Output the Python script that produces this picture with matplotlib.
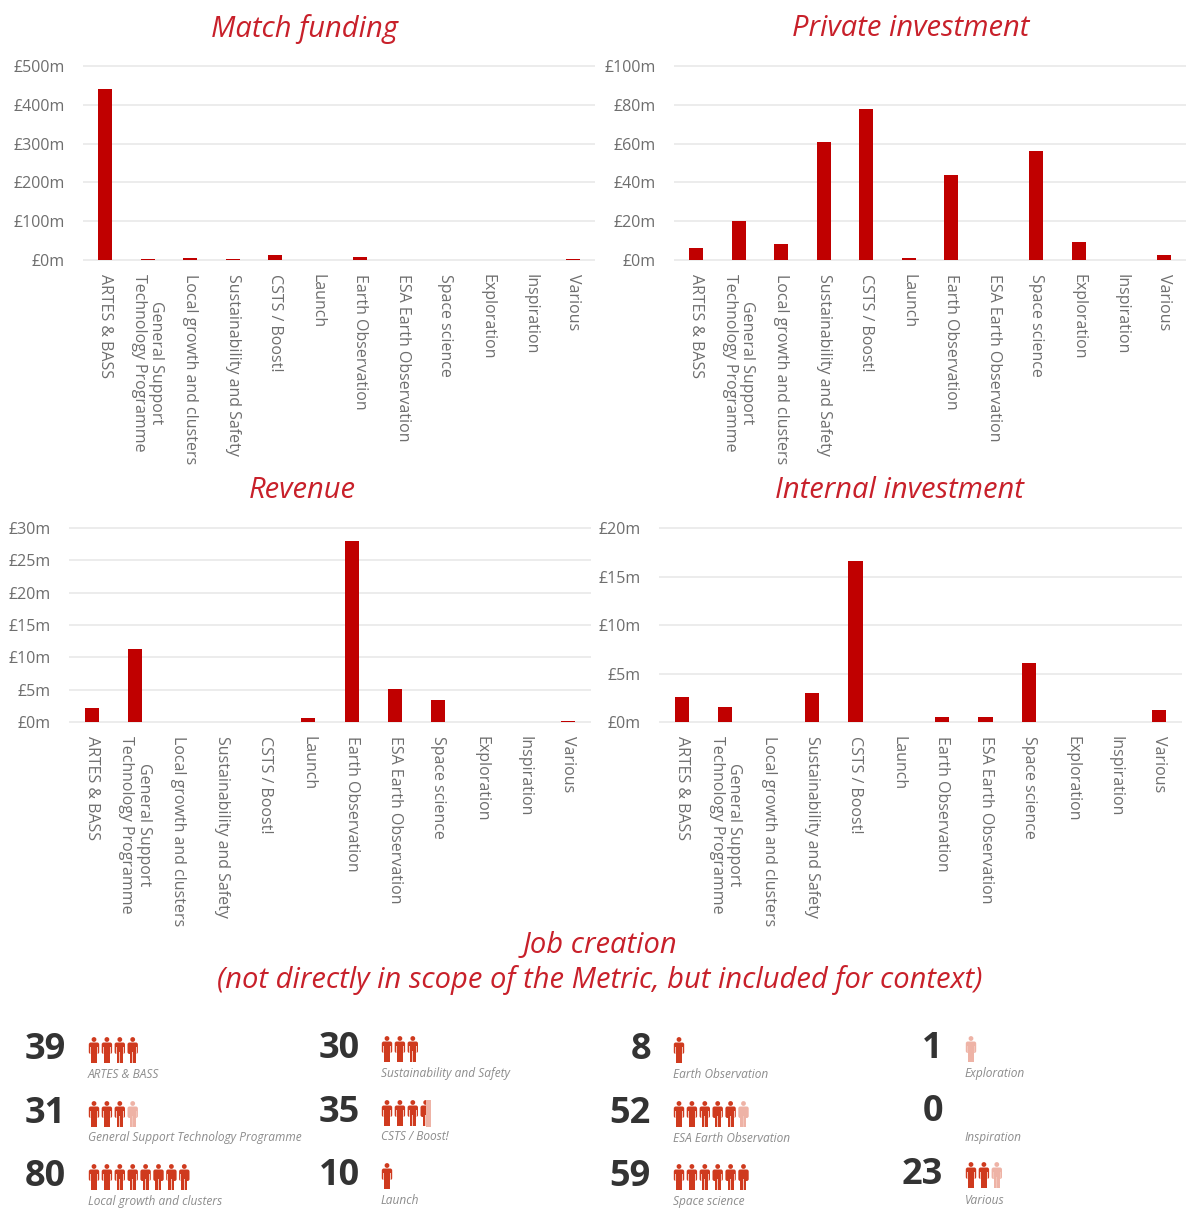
import matplotlib
matplotlib.use("Agg")
import matplotlib.pyplot as plt
from matplotlib.patches import Circle, FancyBboxPatch, Rectangle

plt.rcParams['font.family'] = ['Open Sans', 'DejaVu Sans']

categories = ["ARTES & BASS", "General Support\nTechnology Programme", "Local growth and clusters",
              "Sustainability and Safety", "CSTS / Boost!", "Launch", "Earth Observation",
              "ESA Earth Observation", "Space science", "Exploration", "Inspiration", "Various"]
match_funding = [440, 2, 6, 2, 13, 0, 9, 0, 0, 0, 0, 2]
private_investment = [6, 20, 8.5, 61, 78, 1, 44, 0, 56, 9.5, 0, 2.5]
revenue = [2.2, 11.3, 0, 0, 0, 0.6, 28, 5.1, 3.4, 0, 0, 0.2]
internal_investment = [2.6, 1.5, 0, 3, 16.6, 0, 0.55, 0.55, 6.1, 0, 0, 1.2]
match_ticks = [0, 100, 200, 300, 400, 500]
private_ticks = [0, 20, 40, 60, 80, 100]
revenue_ticks = [0, 5, 10, 15, 20, 25, 30]
internal_ticks = [0, 5, 10, 15, 20]

job_labels = ["ARTES & BASS", "General Support Technology Programme", "Local growth and clusters",
              "Sustainability and Safety", "CSTS / Boost!", "Launch",
              "Earth Observation", "ESA Earth Observation", "Space science",
              "Exploration", "Inspiration", "Various"]
job_values = [39, 31, 80, 30, 35, 10, 8, 52, 59, 1, 0, 23]

W, H = 1195, 1212
RED = "#c00000"
TITLE = "#c8202a"
GREY = "#6e6e6e"
fig = plt.figure(figsize=(W / 100, H / 100), dpi=100)


def panel(title, values, ticks, left, right, top, bottom, tx, ty):
    ax = fig.add_axes([left / W, 1 - bottom / H, (right - left) / W, (bottom - top) / H])
    ax.bar(range(12), values, width=0.33, color=RED, zorder=3)
    ax.set_xlim(-0.5, 11.5)
    ax.set_ylim(0, ticks[-1])
    ax.set_yticks(ticks)
    ax.set_yticklabels([f"£{t}m" for t in ticks], fontsize=11.5, color=GREY)
    ax.set_xticks(range(12))
    ax.set_xticklabels(categories, rotation=270, fontsize=11.5, color=GREY,
                       ha="center", va="top", linespacing=1.1)
    ax.tick_params(length=0, axis="y", pad=14)
    ax.tick_params(length=0, axis="x", pad=10)
    ax.grid(axis="y", color="#ececec", lw=1.4, zorder=0)
    ax.set_clip_on(False)
    for s in ax.spines.values():
        s.set_visible(False)
    for line in ax.get_ygridlines():
        line.set_clip_on(False)
    fig.text(tx / W, 1 - ty / H, title, color=TITLE, fontsize=21, style="italic",
             ha="center", va="center")


panel("Match funding", match_funding, match_ticks, 84, 594, 66, 260, 304, 29)
panel("Private investment", private_investment, private_ticks, 675, 1185, 66, 260, 911, 29)
panel("Revenue", revenue, revenue_ticks, 70, 590, 528, 722, 302, 491)
panel("Internal investment", internal_investment, internal_ticks, 660, 1181, 528, 722, 899, 491)

fig.text(600 / W, 1 - 946 / H, "Job creation", color=TITLE, fontsize=21, style="italic",
         ha="center", va="center")
fig.text(600 / W, 1 - 980 / H, "(not directly in scope of the Metric, but included for context)",
         color=TITLE, fontsize=21, style="italic", ha="center", va="center")

ov = fig.add_axes([0, 0, 1, 1])
ov.set_xlim(0, W)
ov.set_ylim(H, 0)
ov.axis("off")
ov.patch.set_alpha(0)

PERSON = "#cf3a1e"
LIGHT = "#eeb3a6"


def person(cx, cy, col, clip_half=False):
    parts = [
        Circle((cx, cy - 10.5), 2.4),
        FancyBboxPatch((cx - 5.2, cy - 7.5), 10.4, 11.5, boxstyle="round,pad=0,rounding_size=2"),
        Rectangle((cx - 3, cy - 7), 6, 20),
    ]
    for p in parts:
        p.set(facecolor=col, edgecolor="none")
        ov.add_patch(p)
    ov.add_patch(Rectangle((cx - 0.35, cy + 2), 0.7, 11, facecolor="#f3c6bb", edgecolor="none"))
    for dx in (-3.6, 3.6):
        ov.add_patch(Rectangle((cx + dx - 0.35, cy - 3), 0.7, 7, facecolor="#f3c6bb", edgecolor="none"))
    if clip_half:
        ov.add_patch(Rectangle((cx + 0.5, cy - 13), 5, 26.5, facecolor=LIGHT, edgecolor="none"))


col_num_right = [66, 360, 651, 943]
col_icon = [88, 381, 673, 965]
row_num_y = [[1050, 1114, 1177], [1049, 1113, 1176], [1050, 1114, 1177], [1049, 1112, 1175]]
row_lab_y = [[1074, 1138, 1201], [1073, 1137, 1200], [1075, 1138, 1201], [1073, 1137, 1200]]

for i, (lab, v) in enumerate(zip(job_labels, job_values)):
    c, r = divmod(i, 3)
    y = row_num_y[c][r]
    ov.text(col_num_right[c], y, str(v), fontsize=26, fontweight="bold", color="#333333",
            ha="right", va="center")
    ov.text(col_icon[c], row_lab_y[c][r], lab, fontsize=8.6, style="italic", color="#8c8c8c",
            ha="left", va="center")
    full, rem = divmod(v, 10)
    for k in range(full):
        person(col_icon[c] + 6 + 12.9 * k, y, PERSON)
    if rem:
        cx = col_icon[c] + 6 + 12.9 * full
        if rem >= 7:
            person(cx, y, PERSON)
        elif rem == 5:
            person(cx, y, PERSON, clip_half=True)
        else:
            person(cx, y, LIGHT)

fig.savefig("out.png", dpi=100)
